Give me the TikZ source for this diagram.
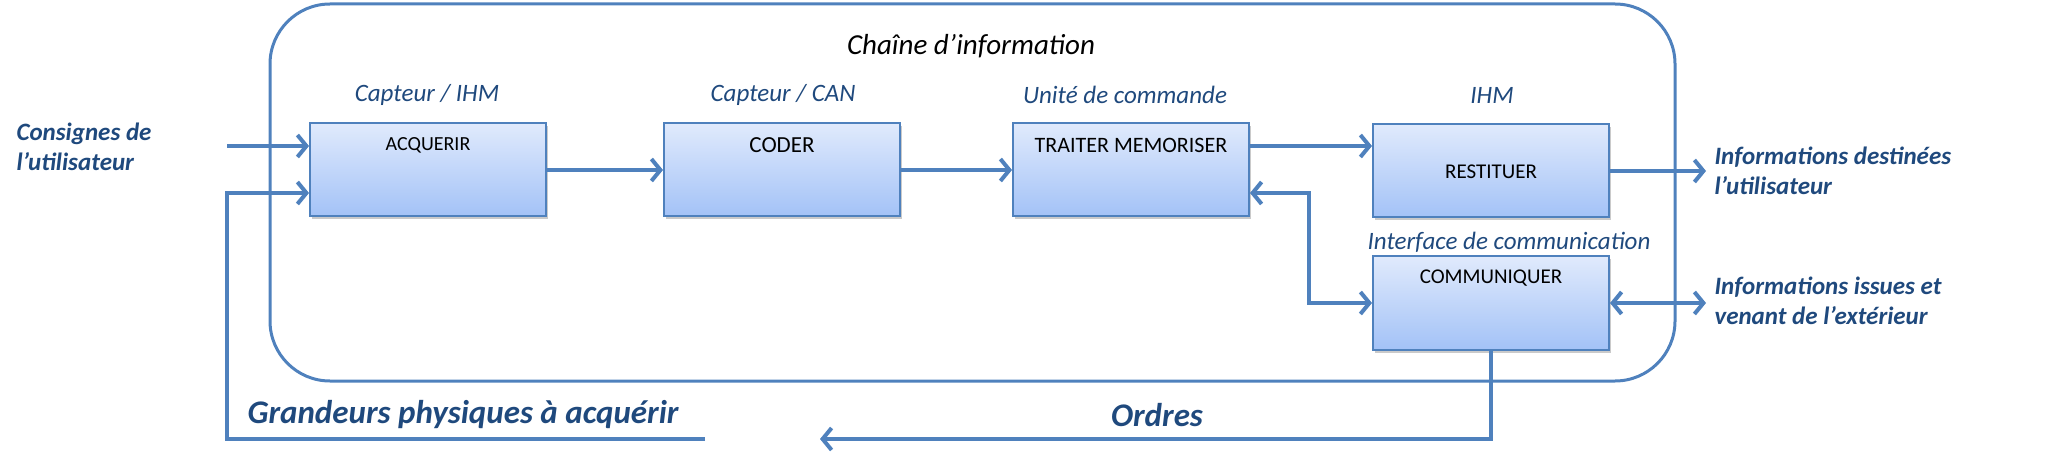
\documentclass[tikz,border=0pt]{standalone}
\usepackage{fontspec}
\setmainfont{Carlito}
\usetikzlibrary{arrows.meta,shadows}
\definecolor{lineblue}{HTML}{4F81BD}
\definecolor{txtblue}{HTML}{1F497D}
\definecolor{boxtop}{HTML}{E0EAFC}
\definecolor{boxbot}{HTML}{A3C2F7}
\begin{document}
\begin{tikzpicture}[x=1pt,y=-1pt,
  blk/.style={draw=lineblue, line width=2pt, top color=boxtop, bottom color=boxbot,
    minimum width=236pt, minimum height=93pt, inner sep=0pt,
    drop shadow={shadow xshift=2pt, shadow yshift=-3pt, opacity=0.35, fill=black!60}},
  conn/.style={draw=lineblue, line width=4pt},
  arr/.style={conn, -{Straight Barb[length=9pt,width=22pt]}},
  darr/.style={conn, {Straight Barb[length=9pt,width=22pt]}-{Straight Barb[length=9pt,width=22pt]}},
  boxtxt/.style={text=black},
  role/.style={font=\fontsize{25}{29}\selectfont\itshape, text=txtblue},
  side/.style={font=\fontsize{25}{30}\selectfont\bfseries\itshape, text=txtblue, align=left, anchor=west},
  big/.style={font=\fontsize{33}{36}\selectfont\bfseries\itshape, text=txtblue}
]
\useasboundingbox (0,0) rectangle (2047,462);

% chain frame
\node[draw=lineblue, line width=3pt, rounded corners=60pt, minimum width=1405pt, minimum height=377pt, inner sep=0pt] (chain) at (972.5,192.5) {};
\node[font=\fontsize{29}{33}\selectfont\itshape] (chaintitle) at (971,46) {Chaîne d’information};

% boxes
\node[blk] (acq) at (428,170) {};
\node[blk] (cod) at (782,170) {};
\node[blk] (trt) at (1131,170) {};
\node[blk] (res) at (1491,171) {};
\node[blk] (com) at (1491,303) {};

\node[boxtxt, font=\fontsize{20}{24}\selectfont] (acqt) at (428,145) {ACQUERIR};
\node[boxtxt, font=\fontsize{23}{27}\selectfont] (codt) at (782,145) {CODER};
\node[boxtxt, font=\fontsize{22}{26}\selectfont] (trtt) at (1131,145) {TRAITER MEMORISER};
\node[boxtxt, font=\fontsize{21}{25}\selectfont] (rest) at (1491,172) {RESTITUER};
\node[boxtxt, font=\fontsize{21}{25}\selectfont] (comt) at (1491,278) {COMMUNIQUER};

% role labels
\node[role] (r1) at (427,95) {Capteur / IHM};
\node[role] (r2) at (783,95) {Capteur / CAN};
\node[role] (r3) at (1125,95) {Unité de commande};
\node[role] (r4) at (1492,95) {IHM};
\node[role] (r5) at (1509,242) {Interface de communication};

% side texts
\node[side] (cons) at (13,147) {Consignes de\\l’utilisateur};
\node[side] (infd) at (1711,171) {Informations destinées\\l’utilisateur};
\node[side] (infi) at (1711,301) {Informations issues et\\venant de l’extérieur};
\node[big, anchor=west] (grand) at (244,415) {Grandeurs physiques à acquérir};
\node[big] (ordres) at (1157,415) {Ordres};

% coordinates
\coordinate (c1) at (227,146);
\coordinate (g1) at (705,439);
\coordinate (g2) at (227,193);
\coordinate (o1) at (820,439);
\coordinate (t1) at ([yshift=24pt]trt.east);
\coordinate (t2) at ([yshift=-23pt]trt.east);
\coordinate (k1) at ([xshift=-63pt]com.west);

% connectors
\draw[arr] (c1) -- (acq.west |- c1);
\draw[arr] (g1) -| (g2) -- (acq.west |- g2);
\draw[arr] (acq.east) -- (cod.west);
\draw[arr] (cod.east) -- (trt.west);
\draw[arr] (t1) -- (res.west |- t1);
\draw[darr] (t2) -| (k1) -- (com.west);
\draw[arr] (res.east) -- ++(96,0);
\draw[darr] (com.east) -- ++(96,0);
\draw[arr] (com.south) |- (o1);
\end{tikzpicture}
\end{document}
